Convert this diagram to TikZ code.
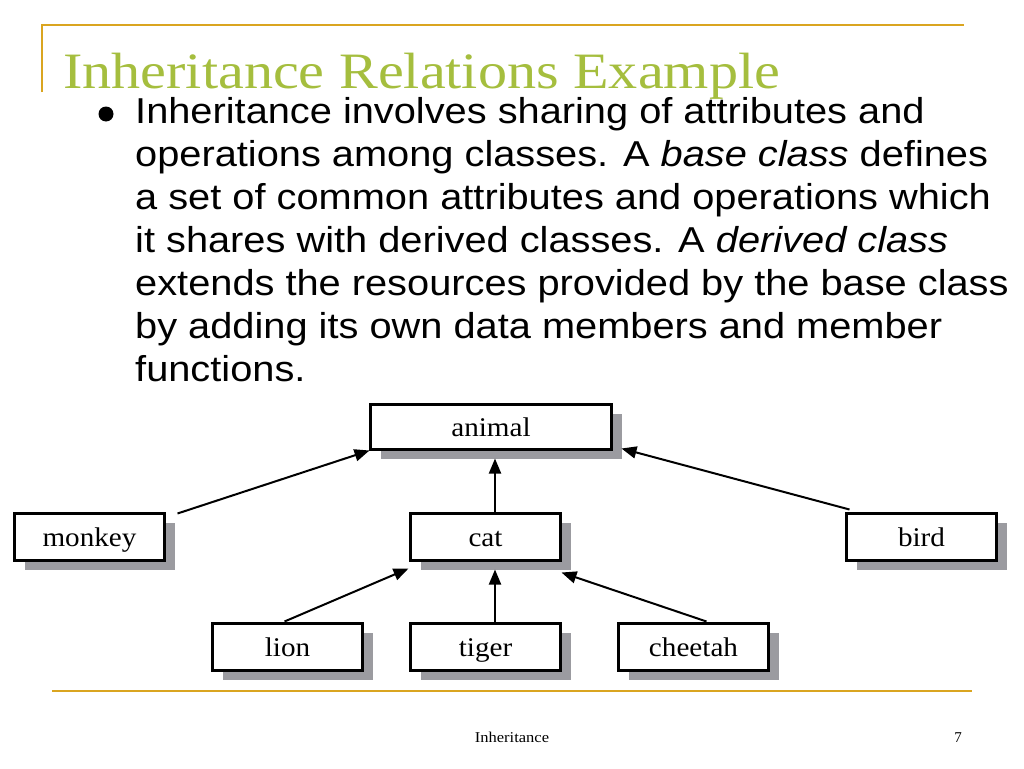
\documentclass[tikz,border=0pt]{standalone}
\usepackage{fontspec}
\usepackage{graphicx}
\setmainfont{Liberation Serif}
\newfontfamily\arialf{Liberation Sans}
\usetikzlibrary{arrows.meta,shadows,calc}
\definecolor{gold}{RGB}{218,165,32}
\definecolor{titlegreen}{RGB}{165,190,62}
\definecolor{shadowgray}{RGB}{155,155,160}
\newcommand{\wide}[2][1.105]{\scalebox{#1}[1]{#2}}
\tikzset{
  cls/.style={draw=black, line width=3pt, fill=white, inner sep=0pt, outer sep=0pt,
    minimum width=150pt, minimum height=47pt, text height=19pt, text depth=0pt,
    font=\fontsize{27}{30}\selectfont,
    drop shadow={shadow xshift=10pt, shadow yshift=-9pt, fill=shadowgray, opacity=1}},
  arr/.style={line width=2pt, -{Triangle[length=15pt,width=12pt]}},
  body/.style={anchor=base west, inner sep=0pt, font=\arialf\fontsize{36}{43}\selectfont},
  rule/.style={draw=gold, line width=2.5pt}
}
\begin{document}
\begin{tikzpicture}[x=1pt,y=-1pt]
\useasboundingbox (0,0) rectangle (1024,768);
\fill[white] (0,0) rectangle (1024,768);
% frame rules
\coordinate (tl) at (42,25);
\coordinate (tr) at (964,25);
\coordinate (tb) at (42,92);
\draw[rule] (tb) -- (tl) -- (tr);
\coordinate (bl) at (52,691);
\coordinate (br) at (972,691);
\draw[rule] (bl) -- (br);
% title
\node[anchor=base west, inner sep=0pt, text=titlegreen, font=\fontsize{51}{56}\selectfont] (title) at (63,88) {\wide[1.14]{Inheritance Relations Example}};
% bullet text
\fill (106,114) circle (7.5);
\node[body] (l1) at (135,123) {\wide{Inheritance involves sharing of attributes and}};
\node[body] (l2) at (135,166) {\wide{operations among classes. A \textit{base class} defines}};
\node[body] (l3) at (135,209) {\wide{a set of common attributes and operations which}};
\node[body] (l4) at (135,252) {\wide{it shares with derived classes. A \textit{derived class}}};
\node[body] (l5) at (135,295) {\wide{extends the resources provided by the base class}};
\node[body] (l6) at (135,338) {\wide{by adding its own data members and member}};
\node[body] (l7) at (135,381) {\wide{functions.}};
% class boxes
\node[cls, minimum width=241pt, minimum height=45pt] (animal) at (491,427) {\wide[1.08]{animal}};
\node[cls] (cat) at (485.5,537) {\wide[1.08]{cat}};
\node[cls] (monkey) at (89.5,537) {\wide[1.08]{monkey}};
\node[cls] (bird) at (921.5,537) {\wide[1.08]{bird}};
\node[cls] (lion) at (287.5,647) {\wide[1.08]{lion}};
\node[cls] (tiger) at (485.5,647) {\wide[1.08]{tiger}};
\node[cls] (cheetah) at (693.5,647) {\wide[1.08]{cheetah}};
% connectors
\draw[arr] ([xshift=13pt]monkey.north east) -- ([xshift=-1pt,yshift=-1pt]animal.south west);
\draw[arr] ([xshift=9.5pt,yshift=1pt]cat.north) -- ([xshift=9.5pt,yshift=-9pt]cat.north |- animal.south);
\draw[arr] ([xshift=3pt,yshift=4pt]bird.north west) -- ([xshift=10pt,yshift=1pt]animal.south east);
\draw[arr] ([xshift=72pt,yshift=2pt]lion.north west) -- ([xshift=-2pt,yshift=-8pt]cat.south west);
\draw[arr] ([xshift=9.5pt,yshift=2pt]tiger.north) -- ([xshift=9.5pt,yshift=-9pt]tiger.north |- cat.south);
\draw[arr] ([xshift=88pt,yshift=2pt]cheetah.north west) -- ([xshift=1pt,yshift=-12pt]cat.south east);
% footer
\node[anchor=base, inner sep=0pt, font=\fontsize{15}{18}\selectfont] (foot) at (512,742) {\wide[1.1]{Inheritance}};
\node[anchor=base, inner sep=0pt, font=\fontsize{15}{18}\selectfont] (pg) at (958,742) {7};
\end{tikzpicture}
\end{document}
